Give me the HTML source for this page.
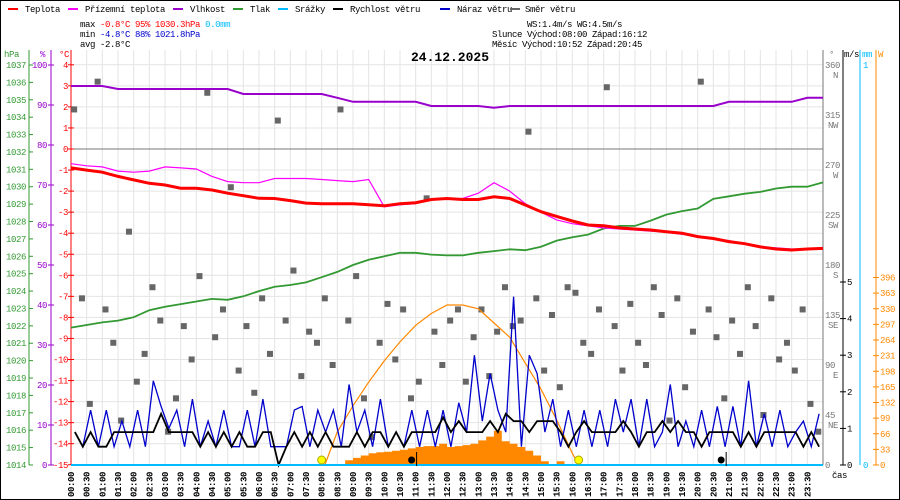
<!DOCTYPE html>
<html><head><meta charset="utf-8"><style>
html,body{margin:0;padding:0;background:#fff}
svg{display:block}
text{font-family:"Liberation Mono",monospace;font-size:9px;letter-spacing:-0.4px}
</style></head><body>
<svg id="chart" width="900" height="500" viewBox="0 0 900 500" xmlns="http://www.w3.org/2000/svg">
<rect x="0.5" y="0.5" width="899" height="499" fill="#fff" stroke="#000"/>
<g id="grid"></g>
<g>
 <g><rect x="8" y="8" width="10" height="2" fill="#f00"/><text x="25" y="12">Teplota</text></g>
 <g><rect x="68" y="8" width="10" height="2" fill="#f0f"/><text x="85" y="12">Přízemní teplota</text></g>
 <g><rect x="173" y="8" width="10" height="2" fill="#90c"/><text x="190" y="12">Vlhkost</text></g>
 <g><rect x="233" y="8" width="10" height="2" fill="#393"/><text x="250" y="12">Tlak</text></g>
 <g><rect x="278" y="8" width="10" height="2" fill="#0bf"/><text x="295" y="12">Srážky</text></g>
 <g><rect x="333" y="8" width="10" height="2" fill="#000"/><text x="350" y="12">Rychlost větru</text></g>
 <g><rect x="440" y="8" width="10" height="2" fill="#00c"/><text x="457" y="12">Náraz větru</text></g>
 <g><rect x="510" y="8" width="10" height="2" fill="#666"/><text x="525" y="12">Směr větru</text></g>
</g>
<g>
 <text x="80" y="27">max <tspan fill="#f00">-0.8°C  95%  1030.3hPa</tspan>   <tspan fill="#0bf">0.0mm</tspan></text>
 <text x="80" y="37">min <tspan fill="#00c">-4.8°C  88%  1021.8hPa</tspan></text>
 <text x="80" y="47">avg -2.8°C</text>
 <text x="527" y="27">WS:1.4m/s     WG:4.5m/s</text>
 <text x="492" y="37">Slunce Východ:08:00  Západ:16:12</text>
 <text x="492" y="47">Měsíc  Východ:10:52  Západ:20:45</text>
</g>
<text x="450" y="61" text-anchor="middle" font-weight="bold" style="font-size:13px;letter-spacing:0">24.12.2025</text>
<g id="axes"></g>
<g id="marks"></g>
</svg>
<script>
const timeLabels=["00:00","00:30","01:00","01:30","02:00","02:30","03:00","03:30","04:00","04:30","05:00","05:30","06:00","06:30","07:00","07:30","08:00","08:30","09:00","09:30","10:00","10:30","11:00","11:30","12:00","12:30","13:00","13:30","14:00","14:30","15:00","15:30","16:00","16:30","17:00","17:30","18:00","18:30","19:00","19:30","20:00","20:30","21:00","21:30","22:00","22:30","23:00","23:30"];
const temperature=[-0.9,-1.0,-1.1,-1.3,-1.47,-1.63,-1.71,-1.86,-1.86,-1.95,-2.1,-2.22,-2.34,-2.35,-2.45,-2.57,-2.6,-2.6,-2.6,-2.65,-2.7,-2.6,-2.55,-2.4,-2.35,-2.4,-2.4,-2.27,-2.35,-2.66,-2.98,-3.2,-3.42,-3.61,-3.65,-3.75,-3.8,-3.85,-3.93,-4.0,-4.16,-4.25,-4.4,-4.5,-4.65,-4.75,-4.8,-4.75,-4.72];
const apparentTemp=[-0.7,-0.8,-0.85,-1.05,-1.1,-1.05,-0.85,-0.9,-0.95,-1.3,-1.55,-1.6,-1.6,-1.4,-1.4,-1.4,-1.45,-1.5,-1.55,-1.45,-2.75,-2.65,-2.6,-2.4,-2.35,-2.35,-2.1,-1.6,-2.0,-2.6,-3.0,-3.37,-3.55,-3.65,-3.75,-3.8,-3.85,-3.9,-3.95,-4.05,-4.15,-4.25,-4.35,-4.5,-4.65,-4.7,-4.75,-4.75,-4.7];
const pressure=[1021.9,1022.05,1022.2,1022.3,1022.5,1022.9,1023.1,1023.25,1023.4,1023.55,1023.5,1023.7,1024.0,1024.25,1024.35,1024.5,1024.8,1025.1,1025.5,1025.8,1026.0,1026.2,1026.2,1026.1,1026.05,1026.05,1026.2,1026.3,1026.4,1026.35,1026.55,1026.9,1027.1,1027.25,1027.6,1027.75,1027.75,1028.05,1028.4,1028.6,1028.75,1029.3,1029.45,1029.6,1029.7,1029.9,1030.0,1030.0,1030.25];
const humidity=[94.75,94.75,94.75,94.0,94.0,94.0,94.0,94.0,94.0,94.0,94.0,92.75,92.75,92.75,92.75,92.75,92.75,91.8,90.8,90.8,90.8,90.8,90.8,89.75,89.75,89.75,89.75,89.3,89.75,89.75,89.75,89.75,89.75,89.75,89.75,89.75,89.75,89.75,89.75,89.75,89.75,89.75,90.8,90.8,90.8,90.8,90.8,91.8,91.8];
const windSpeed=[0.9,0.5,0.9,0.5,0.5,0.9,0.9,0.9,0.9,0.9,0.9,1.4,0.9,0.9,0.9,0.9,0.5,0.9,0.5,0.9,0.5,0.9,0.5,0.5,0.9,0.9,0,0.5,0.9,0.5,0.9,0.5,0.9,0.5,0.5,0.5,0.9,0.5,0.9,0.9,0.5,0.9,0.5,0.9,0.9,0.9,0.9,1.3,
0.9,1.2,0.9,0.9,0.9,1.2,0.9,1.4,1.2,1.2,0.9,1.2,1.2,1.2,0.9,0.5,0.9,1.2,0.9,0.9,0.9,0.9,1.2,0.9,0.5,0.9,0.9,1.2,0.9,1.2,0.9,0.9,0.5,0.9,0.9,0.9,0.9,0.5,0.9,0.5,0.9,0.9,0.9,0.9,0.9,0.5,0.9,0.5];
const windGust=[0.9,0.5,1.5,0.5,1.5,0.5,1.2,0.5,1.5,0.5,2.3,1.6,1.0,1.5,0.5,1.8,0.5,1.2,0.5,1.5,0.5,0.5,1.5,0.5,1.8,0.5,0.5,0.5,1.5,1.6,0.5,1.5,0.9,1.5,0.5,2.2,0.9,1.5,0.5,1.8,0.5,0.9,0.5,1.5,0.5,1.5,0.5,1.5,
0.5,1.7,0.9,3.0,1.2,2.5,1.5,0.9,4.6,0.5,3.0,2.5,0.9,1.8,0.5,1.5,0.5,1.5,0.5,1.5,0.5,1.8,0.9,1.8,0.5,1.8,0.5,0.9,2.2,0.5,1.2,0.5,1.5,0.5,1.6,0.5,1.6,0.5,2.3,0.5,1.4,0.5,1.5,0.5,0.9,1.2,0.5,1.4];
const windDir=[320,150,55,345,140,110,40,210,75,100,160,130,30,60,125,95,170,335,115,140,250,85,125,65,150,100,310,130,175,80,120,110,150,90,320,130,170,60,25,110,145,95,140,60,75,240,120,90,
130,140,75,115,140,80,120,160,125,130,300,150,85,135,70,160,155,110,100,140,340,125,85,145,110,90,160,135,40,150,70,120,345,140,115,60,130,100,160,125,45,150,95,110,85,140,55,30];
const solarActual=[0,0,0,0,0,0,0,0,0,0,0,0,0,0,0,0,0,0,0,0,0,0,0,0,0,0,0,0,0,0,0,0,0,0,0,10,15,20,25,27,28,30,32,35,38,40,40,45,38,40,42,45,52,60,72,50,45,38,30,20,8,2,8,0,0,0,0,0,0,0,0,0,0,0,0,0,0,0,0,0,0,0,0,0,0,0,0,0,0,0,0,0,0,0,0,0];
const solarTheoHours=[8.1,8.5,9,9.5,10,10.5,11,11.5,12,12.5,13,13.5,14,14.5,15,15.5,16,16.2];
const solarTheo=[0,70,125,175,220,260,295,320,338,338,330,300,270,215,160,95,25,0];

const svgNS="http://www.w3.org/2000/svg";
const X0=71,X1=823,TOP=50,BOT=465;
const xT=h=>X0+h*(X1-X0)/24;
const yTemp=v=>149-v*21.05;
const yHum=v=>465-v*4;
const yPres=v=>65+(1037-v)*17.39;
const ySpd=v=>465-v*36.6;
const yDir=v=>465-v*400/360;
const yW=v=>465-v*187.5/396;
function el(tag,attrs,parent){const e=document.createElementNS(svgNS,tag);for(const k in attrs)e.setAttribute(k,attrs[k]);parent.appendChild(e);return e;}
const grid=document.getElementById('grid'),axes=document.getElementById('axes'),marks=document.getElementById('marks');

for(let i=0;i<=48;i++){const x=xT(i/2);const l=el('line',{x1:x,x2:x,y1:TOP,y2:BOT,stroke:'#e4e4e4'},grid);

}
for(let t=4;t>=-15;t--){const y=yTemp(t);const l=el('line',{x1:X0,x2:X1,y1:y,y2:y,stroke:t===0?'#777':'#e4e4e4'},grid);

}

function vline(x,y1,y2,c,name){const l=el('line',{x1:x,x2:x,y1:y1,y2:y2,stroke:c},axes);

}
vline(29,50,465,'#393','hpa-axis');vline(51,50,465,'#90c','humidity-axis');vline(71,50,465,'#f00','temp-axis');
vline(823,50,465,'#777','direction-axis');vline(843,50,465,'#000','speed-axis');vline(860,50,465,'#0bf','rain-axis');vline(876,50,465,'#f80','solar-axis');
function txt(x,y,s,c,anchor,name){const t=el('text',{x:x,y:y,fill:c,'text-anchor':anchor||'start'},axes);t.textContent=s;

return t;}
txt(4,57,'hPa','#393','start','hpa-unit');txt(40,57,'%','#90c','start','humidity-unit');txt(59,57,'°C','#f00','start','temp-unit');
for(let p=1037;p>=1014;p--){txt(26,yPres(p)+3,String(p),'#393','end','hpa-tick-label');el('line',{x1:29,x2:33,y1:yPres(p),y2:yPres(p),stroke:'#393'},axes);}
for(let h=100;h>=0;h-=10){txt(47,yHum(h)+3,String(h),'#90c','end','humidity-tick-label');el('line',{x1:48,x2:54,y1:yHum(h),y2:yHum(h),stroke:'#90c'},axes);}
for(let t=4;t>=-15;t--){txt(68,yTemp(t)+3,String(t),'#f00','end','temp-tick-label');el('line',{x1:68,x2:74,y1:yTemp(t),y2:yTemp(t),stroke:'#f00'},axes);}
const dirTicks=[360,315,270,225,180,135,90,45,0],dirNames=['N','NW','W','SW','S','SE','E','NE',''];
txt(829,57,'°','#777','start','direction-unit');
dirTicks.forEach((d,i)=>{txt(825,yDir(d)+3,String(d),'#777','start','direction-tick-label');if(dirNames[i])txt(838,yDir(d)+13,dirNames[i],'#777','end','direction-name');});
txt(844,57,'m/s','#000','start','speed-unit');txt(862,57,'mm','#0bf','start','rain-unit');txt(878,57,'W','#f80','start','solar-unit');
for(let s=0;s<=5;s++){txt(847,ySpd(s)+3,String(s),'#000','start','speed-tick-label');el('line',{x1:840,x2:846,y1:ySpd(s),y2:ySpd(s),stroke:'#000'},axes);}
txt(863,68,'1','#0bf','start','rain-tick-label');txt(863,468,'0','#0bf','start','rain-tick-label');
for(let w=0;w<=396;w+=33){txt(880,yW(w)+3,String(w),'#f80','start','solar-tick-label');el('line',{x1:873,x2:879,y1:yW(w),y2:yW(w),stroke:'#f80'},axes);}
timeLabels.forEach((s,i)=>{const x=xT(i/2);const t=el('text',{x:0,y:0,transform:`translate(${x+3},497) rotate(-90)`,'font-weight':'bold'},axes);t.textContent=s;

});
txt(832,478,'čas','#000','start','x-axis-title');

function poly(xs,ys,c,w,name){const pts=xs.map((x,i)=>x.toFixed(1)+','+ys[i].toFixed(1)).join(' ');const p=el('polyline',{points:pts,fill:'none',stroke:c,'stroke-width':w},marks);

return p;}
const hh=temperature.map((_,i)=>xT(i/2));
const q=windSpeed.map((_,i)=>xT(i/4+0.125));

{let d='M'+xT(0)+','+BOT;solarActual.forEach((v,i)=>{d+=' L'+xT(i/4).toFixed(1)+','+yW(v).toFixed(1)+' L'+xT((i+1)/4).toFixed(1)+','+yW(v).toFixed(1);});d+=' L'+xT(24)+','+BOT+'Z';
const a=el('path',{d:d,fill:'#f80'},marks);

}
windDir.forEach((d,i)=>{const r=el('rect',{x:xT(i/4+0.1)-3,y:yDir(d)-3,width:6,height:6,fill:'#666'},marks);

});
poly(solarTheoHours.map(xT),solarTheo.map(yW),'#f80',1.2,'solar-theoretical-line');
poly(q,windGust.map(ySpd),'#00c',1.3,'wind-gust-line');
poly(q,windSpeed.map(ySpd),'#000',1.8,'wind-speed-line');
poly(hh,pressure.map(yPres),'#393',1.8,'pressure-line');
poly(hh,humidity.map(yHum),'#90c',2,'humidity-line');
poly(hh,apparentTemp.map(yTemp),'#f0f',1.2,'apparent-temp-line');
poly(hh,temperature.map(yTemp),'#f00',3,'temperature-line');
{const l=el('line',{x1:X0,x2:X1,y1:BOT,y2:BOT,stroke:'#0bf','stroke-width':2},marks);

}
[[8,'#ff0','sunrise-marker'],[16.2,'#ff0','sunset-marker']].forEach(m=>{const c=el('circle',{cx:xT(m[0]),cy:460,r:4,fill:m[1],stroke:'#aa0'},marks);

});
[[10.87,'moonrise-marker'],[20.75,'moonset-marker']].forEach(m=>{const c=el('circle',{cx:xT(m[0]),cy:460,r:3.5,fill:'#000'},marks);


el('line',{x1:xT(m[0])+5,x2:xT(m[0])+5,y1:452,y2:466,stroke:'#000'},marks);});
</script>
</body></html>
